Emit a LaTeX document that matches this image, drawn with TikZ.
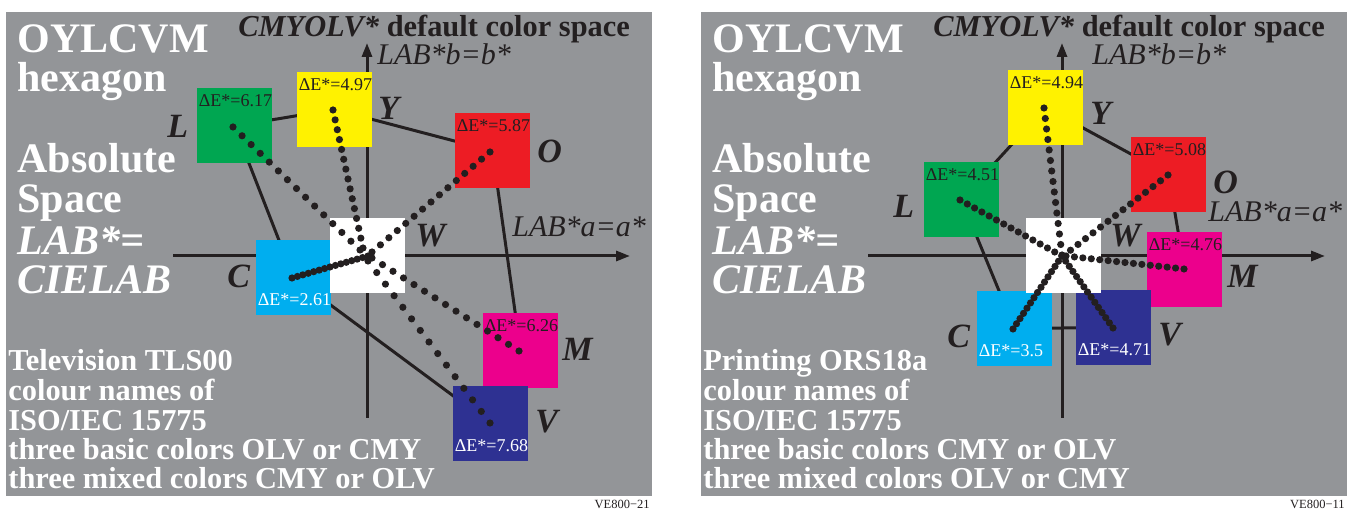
\documentclass[tikz,border=0pt]{standalone}
\usepackage{fontspec}
\setmainfont{Liberation Serif}
\usetikzlibrary{calc,arrows.meta}

\definecolor{panelgray}{RGB}{147,149,152}
\definecolor{ink}{RGB}{35,31,32}
\definecolor{cgreen}{RGB}{0,166,81}
\definecolor{cyellow}{RGB}{255,242,0}
\definecolor{cred}{RGB}{237,28,36}
\definecolor{cmagenta}{RGB}{236,0,140}
\definecolor{cviolet}{RGB}{46,49,146}
\definecolor{ccyan}{RGB}{0,174,239}

% a row of 15 dots from one point to another
\newcommand\dotpath[2]{%
  \foreach \k in {0,...,14}{\fill[ink] ($(#1)!\k/14!(#2)$) circle (1.8pt);}}

\begin{document}
\begin{tikzpicture}[x=0.5pt,y=-0.5pt,
  box/.style={minimum size=37.5pt,inner sep=0pt,outer sep=0pt},
  dE/.style={font=\fontsize{9}{9}\selectfont,inner sep=0pt,anchor=base west,text=ink},
  dEw/.style={dE,text=white},
  vtx/.style={font=\bfseries\itshape\fontsize{17}{17}\selectfont,inner sep=0pt,anchor=base west,text=ink},
  ttl/.style={font=\bfseries\fontsize{21}{21}\selectfont,inner sep=0pt,anchor=base west,text=white},
  ttli/.style={ttl,font=\bfseries\itshape\fontsize{21}{21}\selectfont},
  note/.style={font=\bfseries\fontsize{15.2}{15.2}\selectfont,inner sep=0pt,anchor=base west,text=white},
  head/.style={font=\fontsize{15.2}{15.2}\selectfont,inner sep=0pt,anchor=base west,text=ink},
  axlab/.style={font=\itshape\fontsize{15}{15}\selectfont,inner sep=0pt,anchor=base west,text=ink},
  foot/.style={font=\fontsize{6.25}{6.25}\selectfont,inner sep=0pt,anchor=base east,text=ink},
  axis/.style={line width=1.5pt,draw=ink,-{Triangle[length=7pt,width=5pt]}},
  hex/.style={line width=1.5pt,draw=ink,line join=round}]

\useasboundingbox (0,0) rectangle (1360,512);
\fill[white] (0,0) rectangle (1360,512);
\fill[panelgray] (6,12) rectangle (652,496);
\fill[panelgray] (701,12) rectangle (1347,496);

%% ---------------- left panel: Television TLS00 ----------------
\coordinate (aL) at (234.5,126);
\coordinate (aY) at (334.5,109.5);
\coordinate (aO) at (492.5,151);
\coordinate (aM) at (520.5,350.5);
\coordinate (aV) at (490.5,423.5);
\coordinate (aC) at (293.5,277.5);
\coordinate (aW) at (367.5,255.5);
\coordinate (ayb) at (367,418);
\coordinate (ayt) at (367,43);
\coordinate (axl) at (173,256);
\coordinate (axr) at (630,256);

\draw[axis] (ayb) -- (ayt);
\draw[axis] (axl) -- (axr);
\draw[hex] (aL) -- (aY) -- (aO) -- (aM) -- (aV) -- (aC) -- cycle;

\node[box,fill=cgreen]   (bL) at (aL) {};
\node[box,fill=cyellow]  (bY) at (aY) {};
\node[box,fill=cred]     (bO) at (aO) {};
\node[box,fill=cmagenta] (bM) at (aM) {};
\node[box,fill=cviolet]  (bV) at (aV) {};
\node[box,fill=ccyan]    (bC) at (aC) {};
\node[box,fill=white]    (bW) at (aW) {};

\node[dE]  (dL) at ($(bL.north west)+(1.5,18.5)$) {ΔE*=6.17};
\node[dE]  (dY) at ($(bY.north west)+(1.5,18.5)$) {ΔE*=4.97};
\node[dE]  (dO) at ($(bO.north west)+(1.5,18.5)$) {ΔE*=5.87};
\node[dE]  (dM) at ($(bM.north west)+(1.5,18.5)$) {ΔE*=6.26};
\node[dEw] (dV) at ($(bV.south west)+(1.5,-9.5)$) {ΔE*=7.68};
\node[dEw] (dC) at ($(bC.south west)+(1.5,-9.5)$) {ΔE*=2.61};

\coordinate (pL) at (233,127);  \coordinate (qL) at (360,250);
\coordinate (pY) at (333,110);  \coordinate (qY) at (363,248);
\coordinate (pO) at (490,152);  \coordinate (qO) at (372,252);
\coordinate (pM) at (519,351);  \coordinate (qM) at (372,258);
\coordinate (pV) at (490,423);  \coordinate (qV) at (368,261);
\coordinate (pC) at (292,278);  \coordinate (qC) at (368,256);
\dotpath{pL}{qL}
\dotpath{pY}{qY}
\dotpath{pO}{qO}
\dotpath{pM}{qM}
\dotpath{pV}{qV}
\dotpath{pC}{qC}

\node[vtx] (tL) at (167,138) {L};
\node[vtx] (tY) at (378,120) {Y};
\node[vtx] (tO) at (537,163) {O};
\node[vtx] (tW) at (415,247) {W};
\node[vtx] (tC) at (227,288) {C};
\node[vtx] (tM) at (562,361) {M};
\node[vtx] (tV) at (535,433) {V};

\node[head] (hd1) at (238,37) {\bfseries\itshape CMYOLV*\upshape{} default color space};
\node[axlab] (ab1) at (377,65) {LAB*b=b*};
\node[axlab] (aa1) at (512,237) {LAB*a=a*};

\node[ttl]  (t11) at (17,53)  {OYLCVM};
\node[ttl]  (t12) at (17,92)  {hexagon};
\node[ttl]  (t13) at (17,173) {Absolute};
\node[ttl]  (t14) at (17,213) {Space};
\node[ttli] (t15) at (17,255) {LAB*=};
\node[ttli] (t16) at (17,294) {CIELAB};

\node[note] (n11) at (8,371) {Television TLS00};
\node[note] (n12) at (8,401) {colour names of};
\node[note] (n13) at (8,431) {ISO/IEC 15775};
\node[note] (n14) at (8,460) {three basic colors OLV or CMY};
\node[note] (n15) at (8,489) {three mixed colors CMY or OLV};

\node[foot] (f1) at (650,509) {VE800−21};

%% ---------------- right panel: Printing ORS18a ----------------
\coordinate (rL) at (961.5,199.5);
\coordinate (rY) at (1045.5,107.5);
\coordinate (rO) at (1168.5,174.5);
\coordinate (rM) at (1184.5,269.5);
\coordinate (rV) at (1113.5,327.5);
\coordinate (rC) at (1014.5,328.5);
\coordinate (rW) at (1063.5,255.5);
\coordinate (ryb) at (1062,418);
\coordinate (ryt) at (1062,43);
\coordinate (rxl) at (868,256);
\coordinate (rxr) at (1325,256);

\draw[axis] (ryb) -- (ryt);
\draw[axis] (rxl) -- (rxr);
\draw[hex] (rL) -- (rY) -- (rO) -- (rM) -- (rV) -- (rC) -- cycle;

\node[box,fill=cgreen]   (cL) at (rL) {};
\node[box,fill=cyellow]  (cY) at (rY) {};
\node[box,fill=cred]     (cO) at (rO) {};
\node[box,fill=cmagenta] (cM) at (rM) {};
\node[box,fill=cviolet]  (cV) at (rV) {};
\node[box,fill=ccyan]    (cC) at (rC) {};
\node[box,fill=white]    (cW) at (rW) {};

\node[dE]  (eL) at ($(cL.north west)+(1.5,18.5)$) {ΔE*=4.51};
\node[dE]  (eY) at ($(cY.north west)+(1.5,18.5)$) {ΔE*=4.94};
\node[dE]  (eO) at ($(cO.north west)+(1.5,18.5)$) {ΔE*=5.08};
\node[dE]  (eM) at ($(cM.north west)+(1.5,18.5)$) {ΔE*=4.76};
\node[dEw] (eV) at ($(cV.south west)+(1.5,-9.5)$) {ΔE*=4.71};
\node[dEw] (eC) at ($(cC.south west)+(1.5,-9.5)$) {ΔE*=3.5};

\coordinate (sL) at (960,200);   \coordinate (uL) at (1062,256);
\coordinate (sY) at (1044,108);  \coordinate (uY) at (1062,255);
\coordinate (sO) at (1168,175);  \coordinate (uO) at (1063,256);
\coordinate (sM) at (1184,269);  \coordinate (uM) at (1066,256);
\coordinate (sV) at (1113,328);  \coordinate (uV) at (1062,256);
\coordinate (sC) at (1013,329);  \coordinate (uC) at (1062,256);
\dotpath{sL}{uL}
\dotpath{sY}{uY}
\dotpath{sO}{uO}
\dotpath{sM}{uM}
\dotpath{sV}{uV}
\dotpath{sC}{uC}

\node[vtx] (vL) at (893,218)  {L};
\node[vtx] (vY) at (1090,125) {Y};
\node[vtx] (vO) at (1213,194) {O};
\node[vtx] (vW) at (1110,247) {W};
\node[vtx] (vC) at (947,348)  {C};
\node[vtx] (vM) at (1227,288) {M};
\node[vtx] (vV) at (1158,346) {V};

\node[head] (hd2) at (933,37) {\bfseries\itshape CMYOLV*\upshape{} default color space};
\node[axlab] (ab2) at (1092,65) {LAB*b=b*};
\node[axlab] (aa2) at (1208,222) {LAB*a=a*};

\node[ttl]  (t21) at (712,53)  {OYLCVM};
\node[ttl]  (t22) at (712,92)  {hexagon};
\node[ttl]  (t23) at (712,173) {Absolute};
\node[ttl]  (t24) at (712,213) {Space};
\node[ttli] (t25) at (712,255) {LAB*=};
\node[ttli] (t26) at (712,294) {CIELAB};

\node[note] (n21) at (703,371) {Printing ORS18a};
\node[note] (n22) at (703,401) {colour names of};
\node[note] (n23) at (703,431) {ISO/IEC 15775};
\node[note] (n24) at (703,460) {three basic colors CMY or OLV};
\node[note] (n25) at (703,489) {three mixed colors OLV or CMY};

\node[foot] (f2) at (1345,509) {VE800−11};
\end{tikzpicture}
\end{document}
